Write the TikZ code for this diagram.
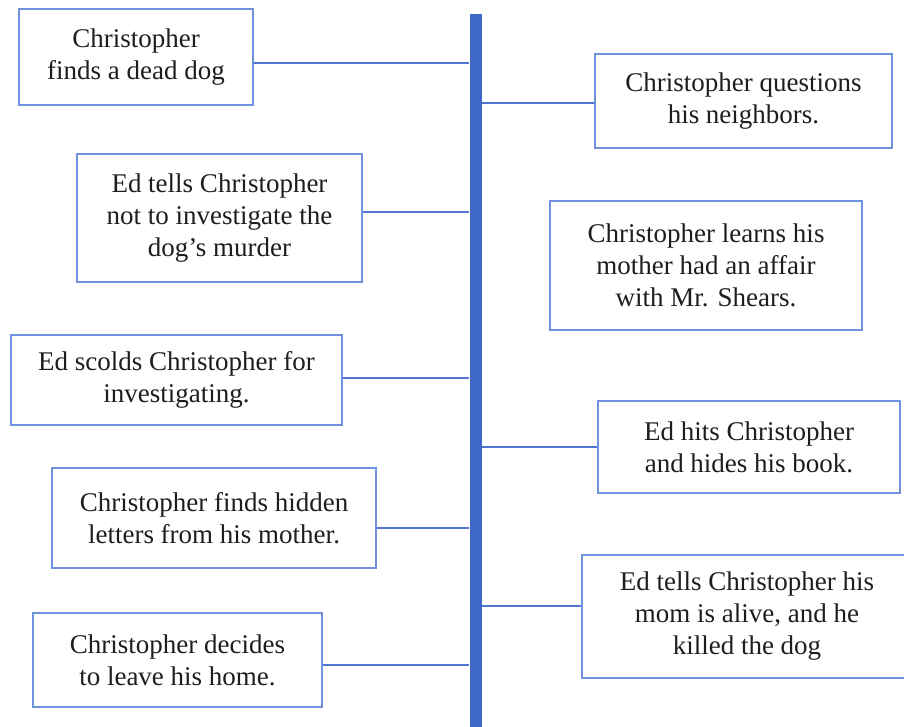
\documentclass[tikz,border=0pt]{standalone}
\usepackage{fontspec}
\setmainfont{Liberation Serif}
\definecolor{boxblue}{RGB}{112,145,222}
\definecolor{lineblue}{RGB}{82,118,212}
\definecolor{barblue}{RGB}{64,104,200}
\definecolor{txt}{RGB}{30,30,30}
\begin{document}
\begin{tikzpicture}[x=1pt,y=-1pt,
  evbox/.style={draw=boxblue, line width=1.4pt, fill=white, inner sep=0pt,
    align=center, text=txt, font=\fontsize{27}{32}\selectfont},
  link/.style={draw=lineblue, line width=1.5pt}]
\useasboundingbox (0,0) rectangle (904,727);
\clip (0,0) rectangle (904,727);
\fill[white] (0,0) rectangle (904,727);
\node[fill=barblue, inner sep=0pt, minimum width=12pt, minimum height=730pt] (bar) at (475.5,379) {};
% left boxes
\node[evbox, minimum width=234pt, minimum height=96pt] (L1) at (136,57) {Christopher\\finds a dead dog};
\node[evbox, minimum width=285pt, minimum height=128pt] (L2) at (219.5,218) {Ed tells Christopher\\not to investigate the\\dog’s murder};
\node[evbox, minimum width=331pt, minimum height=90pt] (L3) at (176.5,380) {Ed scolds Christopher for\\investigating.};
\node[evbox, minimum width=324pt, minimum height=100pt] (L4) at (214,518) {Christopher finds hidden\\letters from his mother.};
\node[evbox, minimum width=289pt, minimum height=94pt] (L5) at (177.5,660) {Christopher decides\\to leave his home.};
% right boxes
\node[evbox, minimum width=297pt, minimum height=94pt] (R1) at (743.5,101) {Christopher questions\\his neighbors.};
\node[evbox, minimum width=312pt, minimum height=129pt] (R2) at (706,265.5) {Christopher learns his\\mother had an affair\\with Mr. Shears.};
\node[evbox, minimum width=302pt, minimum height=92pt] (R3) at (749,447) {Ed hits Christopher\\and hides his book.};
\node[evbox, minimum width=330pt, minimum height=123pt] (R4) at (747,616.5) {Ed tells Christopher his\\mom is alive, and he\\killed the dog};
% connectors
\draw[link] (L1.east |- 0,63) -- (bar.west |- 0,63);
\draw[link] (L2.east |- 0,212) -- (bar.west |- 0,212);
\draw[link] (L3.east |- 0,378) -- (bar.west |- 0,378);
\draw[link] (L4.east |- 0,528) -- (bar.west |- 0,528);
\draw[link] (L5.east |- 0,665) -- (bar.west |- 0,665);
\draw[link] (bar.east |- 0,103) -- (R1.west |- 0,103);
\draw[link] (bar.east |- 0,447) -- (R3.west |- 0,447);
\draw[link] (bar.east |- 0,606) -- (R4.west |- 0,606);
\end{tikzpicture}
\end{document}
